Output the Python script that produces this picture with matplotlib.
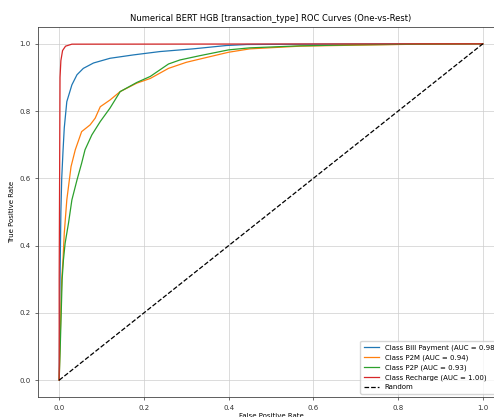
import matplotlib
matplotlib.use("Agg")
import matplotlib.pyplot as plt

title = "Numerical BERT HGB [transaction_type] ROC Curves (One-vs-Rest)"
class_names = ["Bill Payment", "P2M", "P2P", "Recharge"]
auc_values = [0.98, 0.94, 0.93, 1.00]
colors = ["#1f77b4", "#ff7f0e", "#2ca02c", "#d62728"]

bill_fpr = [0.0, 0.002, 0.004, 0.006, 0.009, 0.012, 0.018, 0.030, 0.042, 0.057, 0.081, 0.120, 0.175, 0.238, 0.316, 0.395, 0.443, 0.60, 0.80, 1.0]
bill_tpr = [0.0, 0.30, 0.50, 0.60, 0.68, 0.75, 0.828, 0.878, 0.908, 0.927, 0.943, 0.957, 0.967, 0.977, 0.985, 0.995, 0.998, 0.999, 1.0, 1.0]

p2m_fpr = [0.0, 0.002, 0.004, 0.006, 0.009, 0.012, 0.018, 0.028, 0.038, 0.053, 0.073, 0.085, 0.097, 0.120, 0.144, 0.183, 0.215, 0.258, 0.30, 0.333, 0.40, 0.45, 0.568, 0.70, 0.85, 1.0]
p2m_tpr = [0.0, 0.10, 0.21, 0.30, 0.357, 0.437, 0.536, 0.635, 0.685, 0.739, 0.759, 0.779, 0.813, 0.833, 0.858, 0.883, 0.897, 0.927, 0.945, 0.955, 0.975, 0.985, 0.993, 0.996, 0.999, 1.0]

p2p_fpr = [0.0, 0.003, 0.005, 0.007, 0.010, 0.014, 0.022, 0.030, 0.042, 0.053, 0.061, 0.077, 0.097, 0.120, 0.144, 0.183, 0.215, 0.258, 0.285, 0.333, 0.40, 0.45, 0.568, 0.70, 0.85, 1.0]
p2p_tpr = [0.0, 0.12, 0.21, 0.30, 0.357, 0.407, 0.467, 0.536, 0.595, 0.645, 0.685, 0.729, 0.769, 0.809, 0.858, 0.885, 0.903, 0.94, 0.952, 0.965, 0.982, 0.988, 0.994, 0.997, 0.999, 1.0]

rech_fpr = [0.0, 0.0, 0.002, 0.004, 0.008, 0.015, 0.030, 1.0]
rech_tpr = [0.0, 0.30, 0.90, 0.95, 0.98, 0.993, 0.999, 1.0]

fprs = [bill_fpr, p2m_fpr, p2p_fpr, rech_fpr]
tprs = [bill_tpr, p2m_tpr, p2p_tpr, rech_tpr]

fig = plt.figure(figsize=(4.94, 4.17), dpi=100)
ax = fig.add_axes([38/494, 20/417, 466/494, 370/417])

for name, auc, c, fx, ty in zip(class_names, auc_values, colors, fprs, tprs):
    ax.plot(fx, ty, color=c, lw=0.9, label=f"Class {name} (AUC = {auc:.2f})")
ax.plot([0, 1], [0, 1], "k--", lw=0.9, label="Random")

ax.set_xlim(-0.05, 1.05)
ax.set_ylim(-0.05, 1.05)
ax.set_xticks([0.0, 0.2, 0.4, 0.6, 0.8, 1.0])
ax.set_yticks([0.0, 0.2, 0.4, 0.6, 0.8, 1.0])
ax.tick_params(labelsize=5, length=2, width=0.5, colors="#333333")
ax.grid(True, color="#cccccc", lw=0.6, alpha=0.8)
for s in ax.spines.values():
    s.set_linewidth(0.6)
    s.set_color("#444444")
ax.set_xlabel("False Positive Rate", fontsize=5, labelpad=2)
ax.set_ylabel("True Positive Rate", fontsize=5, labelpad=3)
ax.set_title(title, fontsize=6, pad=4)
ax.legend(loc="lower right", fontsize=5, handlelength=2.2, borderpad=0.5, labelspacing=0.5, framealpha=0.8)

fig.savefig("out.png", dpi=100)
